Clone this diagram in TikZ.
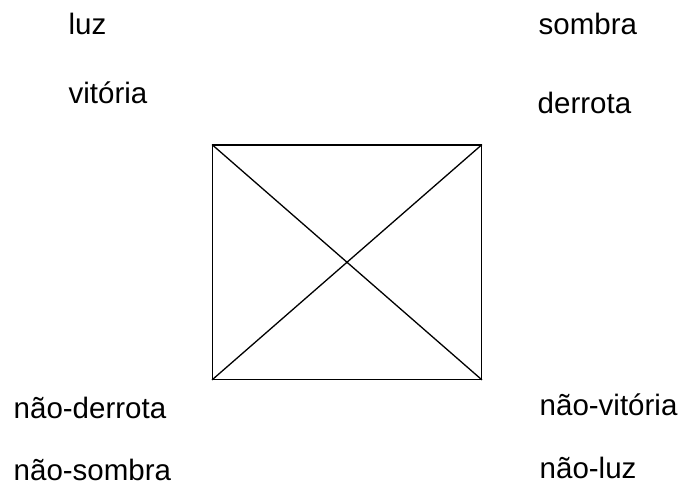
\documentclass[tikz,border=0pt]{standalone}
\usepackage{fontspec}
\setmainfont{Liberation Sans}
\begin{document}
\begin{tikzpicture}[x=1pt,y=-1pt,
  lbl/.style={anchor=base west,inner sep=0pt,font=\fontsize{29.5}{35}\selectfont},
  edge/.style={line width=1.3pt,line cap=rect}]
\useasboundingbox (0,0) rectangle (680,485);
\coordinate (tl) at (212.5,145);
\coordinate (tr) at (481.5,145);
\coordinate (br) at (481.5,379.5);
\coordinate (bl) at (212.5,379.5);
\draw[edge] (tl) -- (tr) -- (br) -- (bl) -- cycle;
\draw[edge] (tl) -- (br);
\draw[edge] (tr) -- (bl);
\node[lbl] (luz) at (68.5,34) {luz};
\node[lbl] (vit) at (68.5,103) {vitória};
\node[lbl] (som) at (538.5,34.5) {sombra};
\node[lbl] (der) at (537.5,113) {derrota};
\node[lbl] (nder) at (13.5,418) {não-derrota};
\node[lbl] (nsom) at (13.5,480) {não-sombra};
\node[lbl] (nvit) at (539.5,415.5) {não-vitória};
\node[lbl] (nluz) at (539.5,478.5) {não-luz};
\end{tikzpicture}
\end{document}
